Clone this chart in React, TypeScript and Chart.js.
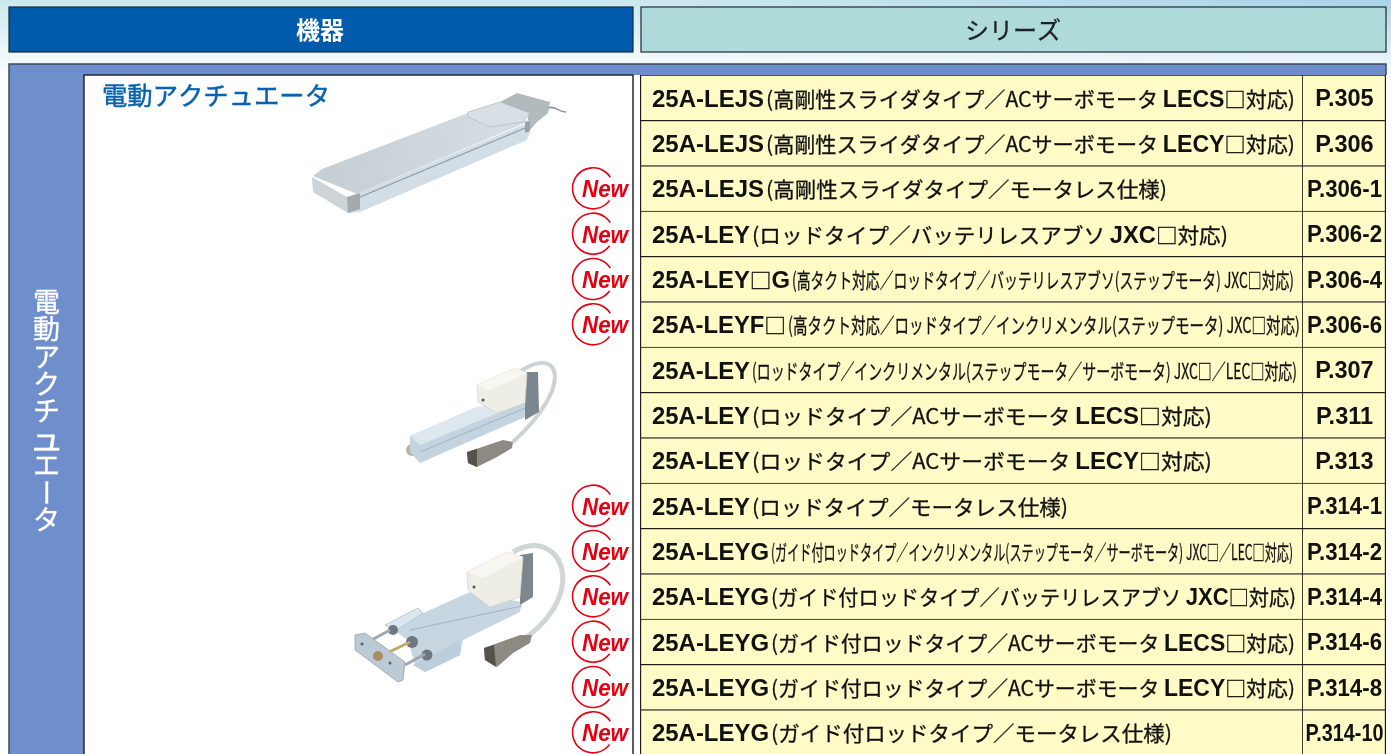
import React, { useEffect, useRef } from "react";
import { Chart, registerables } from "chart.js";

Chart.register(...registerables);

const headerLabels = ["機器", "シリーズ"];
const groupLabel = "電動アクチュエータ";

// "|" separates runs of different weight.
const rowCodes = [
  "25A-LEJS", "25A-LEJS", "25A-LEJS", "25A-LEY", "25A-LEY|□|G",
  "25A-LEYF|□", "25A-LEY", "25A-LEY", "25A-LEY", "25A-LEY",
  "25A-LEYG", "25A-LEYG", "25A-LEYG", "25A-LEYG", "25A-LEYG",
];
const rowDescriptions = [
  "(高剛性スライダタイプ／ACサーボモータ |LECS|□対応)",
  "(高剛性スライダタイプ／ACサーボモータ |LECY|□対応)",
  "(高剛性スライダタイプ／モータレス仕様)",
  "(ロッドタイプ／バッテリレスアブソ |JXC|□対応)",
  "(高タクト対応／ロッドタイプ／バッテリレスアブソ(ステップモータ) JXC□対応)",
  "(高タクト対応／ロッドタイプ／インクリメンタル(ステップモータ) JXC□対応)",
  "(ロッドタイプ／インクリメンタル(ステップモータ／サーボモータ) JXC□／LEC□対応)",
  "(ロッドタイプ／ACサーボモータ |LECS|□対応)",
  "(ロッドタイプ／ACサーボモータ |LECY|□対応)",
  "(ロッドタイプ／モータレス仕様)",
  "(ガイド付ロッドタイプ／インクリメンタル(ステップモータ／サーボモータ) JXC□／LEC□対応)",
  "(ガイド付ロッドタイプ／バッテリレスアブソ |JXC|□対応)",
  "(ガイド付ロッドタイプ／ACサーボモータ |LECS|□対応)",
  "(ガイド付ロッドタイプ／ACサーボモータ |LECY|□対応)",
  "(ガイド付ロッドタイプ／モータレス仕様)",
];
const rowPages = [
  "P.305", "P.306", "P.306-1", "P.306-2", "P.306-4", "P.306-6", "P.307", "P.311",
  "P.313", "P.314-1", "P.314-2", "P.314-4", "P.314-6", "P.314-8", "P.314-10",
];
const rowIsNew = [
  false, false, true, true, true, true, false, false,
  false, true, true, true, true, true, true,
];
const seriesCellWidths = [662, 662, 662, 662, 662, 662, 662, 662, 662, 662, 662, 662, 662, 662, 662];
const pageCellWidths = [84, 84, 84, 84, 84, 84, 84, 84, 84, 84, 84, 84, 84, 84, 84];

// Layout of the text inside the rows (not data).
const codeEndX = [764, 764, 764, 750, 790, 786, 750, 750, 750, 750, 769, 769, 769, 769, 769];
const textEndX = [1295, 1295, 1167, 1228, 1294, 1300, 1297, 1212, 1212, 1068, 1293, 1296, 1295, 1295, 1172];

const SANS = '"Liberation Sans", Arial, sans-serif';
const CJK = '"Noto Sans CJK JP", "Noto Sans", sans-serif';
const INK = "#111111";
type Ctx = CanvasRenderingContext2D;
type Pt = number[];

function poly(ctx: Ctx, pts: Pt[], fill: string | CanvasGradient, stroke?: string) {
  ctx.beginPath();
  pts.forEach((p, i) => (i ? ctx.lineTo(p[0], p[1]) : ctx.moveTo(p[0], p[1])));
  ctx.closePath();
  ctx.fillStyle = fill;
  ctx.fill();
  if (stroke) {
    ctx.strokeStyle = stroke;
    ctx.lineWidth = 0.7;
    ctx.stroke();
  }
}

function curve(ctx: Ctx, p: number[], color: string, width: number) {
  ctx.beginPath();
  ctx.moveTo(p[0], p[1]);
  ctx.bezierCurveTo(p[2], p[3], p[4], p[5], p[6], p[7]);
  ctx.strokeStyle = color;
  ctx.lineWidth = width;
  ctx.stroke();
}

function segment(ctx: Ctx, l: number[], color: string, width: number) {
  ctx.beginPath();
  ctx.moveTo(l[0], l[1]);
  ctx.lineTo(l[2], l[3]);
  ctx.strokeStyle = color;
  ctx.lineWidth = width;
  ctx.stroke();
}

function dot(ctx: Ctx, x: number, y: number, r: number, color: string) {
  ctx.fillStyle = color;
  ctx.beginPath();
  ctx.arc(x, y, r, 0, Math.PI * 2);
  ctx.fill();
}

function drawRuns(ctx: Ctx, source: string, x0: number, x1: number, y: number, boldOnEven: boolean) {
  const runs = source.split("|");
  const isBold = (i: number) => (i % 2 === 0) === boldOnEven;
  const fontOf = (i: number) => (isBold(i) ? `bold 23px ${SANS}` : `21px ${CJK}`);
  let total = 0;
  const widths = runs.map((r, i) => {
    ctx.font = fontOf(i);
    const w = ctx.measureText(r).width;
    total += w;
    return w;
  });
  const k = (x1 - x0) / total;
  let x = x0;
  runs.forEach((r, i) => {
    ctx.save();
    ctx.font = fontOf(i);
    ctx.translate(x, y);
    ctx.scale(k, 1);
    ctx.fillText(r, 0, 0);
    if (!isBold(i)) {
      ctx.strokeStyle = INK;
      ctx.lineWidth = 0.3;
      ctx.strokeText(r, 0, 0);
    }
    ctx.restore();
    x += widths[i] * k;
  });
}

function drawNewBadge(ctx: Ctx, y: number) {
  ctx.save();
  ctx.strokeStyle = "#E60012";
  ctx.lineWidth = 1.6;
  ctx.beginPath();
  ctx.arc(593, y, 20.5, Math.PI * 0.2, Math.PI * 1.82);
  ctx.stroke();
  ctx.fillStyle = "#E60012";
  ctx.font = `italic bold 24px ${SANS}`;
  ctx.textAlign = "left";
  ctx.textBaseline = "alphabetic";
  ctx.fillText("New", 582, y + 9, 46);
  ctx.restore();
}

function drawSlider(ctx: Ctx) {
  curve(ctx, [548, 108, 555, 105, 558, 112, 566, 112], "#8d9499", 1.6);
  poly(ctx, [[500, 102], [517, 93], [550, 102], [548, 113], [537, 122], [530, 130], [527, 113]], "#b3babd");
  const top = ctx.createLinearGradient(320, 170, 530, 120);
  top.addColorStop(0, "#c6ced4");
  top.addColorStop(1, "#d8dfe4");
  poly(ctx, [[313, 176], [322, 169], [468, 113], [530, 121], [357, 194]], top);
  poly(ctx, [[357, 194], [530, 122], [530, 132], [527, 140], [360, 212], [347, 213], [347, 197]], "#d3dde5");
  segment(ctx, [360, 197, 530, 126], "#8c9aa6", 1.2);
  poly(ctx, [[312, 177], [347, 197], [348, 213], [313, 192]], "#cdd3d7");
  poly(ctx, [[347, 197], [360, 193], [360, 209], [348, 213]], "#a3abb0");
  poly(ctx, [[525, 122], [530, 121], [530, 131], [525, 133]], "#9aa2a8");
  poly(ctx, [[468, 112], [500, 102], [530, 113], [523, 122], [490, 127], [468, 117]], "#d9e0e5", "#b0b9bf");
}

function drawRod(ctx: Ctx) {
  curve(ctx, [521, 371, 560, 345, 575, 385, 513, 442], "#cdd3d4", 4);
  dot(ctx, 412, 450, 6, "#b9b59f");
  poly(ctx, [[410, 436], [477, 407], [525, 402], [525, 417], [420, 463], [410, 452]], "#c3d3e0");
  poly(ctx, [[410, 436], [477, 407], [525, 402], [420, 445]], "#dde7ee");
  segment(ctx, [420, 452, 525, 408], "#9fb3c3", 1);
  poly(ctx, [[525, 372], [538, 372], [539, 412], [525, 420]], "#7d868c");
  poly(ctx, [[477, 385], [515, 368], [527, 373], [525, 403], [497, 413], [478, 402]], "#efeee6", "#d4d2c6");
  poly(ctx, [[477, 385], [515, 368], [527, 373], [490, 390]], "#f8f7f1");
  dot(ctx, 483, 400, 1.5, "#55534c");
  poly(ctx, [[467, 452], [503, 440], [513, 442], [512, 448], [497, 457], [477, 467], [468, 463]], "#8d8a83");
  poly(ctx, [[467, 452], [477, 449], [477, 467], [468, 463]], "#55524c");
}

function drawGuide(ctx: Ctx) {
  curve(ctx, [513, 552, 560, 525, 590, 590, 527, 637], "#d0d5d6", 5);
  poly(ctx, [[470, 592], [522, 602], [520, 612], [463, 640], [460, 655], [425, 672], [415, 665], [408, 640], [390, 628]], "#c8d6e2");
  poly(ctx, [[385, 625], [418, 608], [423, 613], [397, 630]], "#dce6ee", "#a9b9c5");
  poly(ctx, [[413, 665], [460, 640], [460, 655], [425, 672]], "#bccddb");
  segment(ctx, [410, 630, 522, 606], "#9fb3c3", 1);
  dot(ctx, 393, 630, 5, "#6d7780");
  dot(ctx, 412, 642, 6, "#6d7780");
  dot(ctx, 427, 655, 5.5, "#6d7780");
  segment(ctx, [368, 642, 390, 630], "#9aa9b5", 3);
  segment(ctx, [387, 653, 410, 642], "#c2a964", 3);
  segment(ctx, [405, 665, 425, 654], "#9aa9b5", 3);
  poly(ctx, [[520, 555], [533, 553], [533, 597], [520, 605]], "#7d868c");
  poly(ctx, [[467, 572], [507, 552], [523, 557], [520, 597], [490, 607], [468, 590]], "#efeee6", "#d4d2c6");
  poly(ctx, [[467, 572], [507, 552], [523, 557], [483, 578]], "#f8f7f1");
  dot(ctx, 474, 587, 1.5, "#55534c");
  poly(ctx, [[355, 635], [365, 633], [405, 662], [403, 680], [398, 682], [355, 650]], "#bccad5", "#8f9ca5");
  dot(ctx, 378, 656, 5, "#a58f60");
  dot(ctx, 362, 644, 1.5, "#58626a");
  dot(ctx, 390, 663, 1.5, "#58626a");
  poly(ctx, [[484, 648], [520, 635], [532, 635], [530, 643], [513, 653], [497, 667], [485, 660]], "#8d8a83");
  poly(ctx, [[484, 648], [494, 645], [496, 667], [485, 660]], "#55524c");
}

const tablePlugin = {
  id: "tablePlugin",
  beforeDraw(chart: Chart) {
    const ctx = chart.ctx as Ctx;
    const y = chart.scales.y;
    const w = chart.width;
    const h = chart.height;
    const R = 1386;
    ctx.save();
    ctx.fillStyle = "#ffffff";
    ctx.fillRect(0, 0, w, h);
    const band = ctx.createLinearGradient(0, 0, w, 0);
    band.addColorStop(0, "#cbe9ed");
    band.addColorStop(0.5, "#c9e7ee");
    band.addColorStop(1, "#a8d2e8");
    ctx.fillStyle = band;
    ctx.fillRect(0, 0, w, 80);
    const fade = ctx.createLinearGradient(0, 0, 0, 80);
    fade.addColorStop(0, "rgba(255,255,255,0)");
    fade.addColorStop(0.75, "rgba(255,255,255,0.75)");
    fade.addColorStop(1, "rgba(255,255,255,1)");
    ctx.fillStyle = fade;
    ctx.fillRect(0, 0, w, 80);

    // Column headers
    ctx.fillStyle = "#005BAC";
    ctx.fillRect(9, 7, 624, 45);
    ctx.strokeStyle = "#1c2b38";
    ctx.lineWidth = 1.2;
    ctx.strokeRect(9, 7, 624, 45);
    ctx.fillStyle = "#AEDBDA";
    ctx.fillRect(641, 7, R - 641, 45);
    ctx.strokeRect(641, 7, R - 641, 45);
    ctx.textAlign = "center";
    ctx.textBaseline = "middle";
    ctx.fillStyle = "#ffffff";
    ctx.font = `bold 24px ${CJK}`;
    ctx.fillText(headerLabels[0], 320, 30);
    ctx.fillStyle = "#222222";
    ctx.strokeStyle = "#222222";
    ctx.lineWidth = 0.3;
    ctx.font = `24px ${CJK}`;
    ctx.fillText(headerLabels[1], 1013, 30);
    ctx.strokeText(headerLabels[1], 1013, 30);

    // Group panel
    ctx.fillStyle = "#6E8FCB";
    ctx.fillRect(9, 64, R - 9, h - 64);
    ctx.strokeStyle = "#3c4a5c";
    ctx.lineWidth = 1.5;
    ctx.beginPath();
    ctx.moveTo(9, h);
    ctx.lineTo(9, 64);
    ctx.lineTo(R, 64);
    ctx.lineTo(R, 75);
    ctx.stroke();
    ctx.fillStyle = "#ffffff";
    ctx.fillRect(84, 75, 556, h - 75);
    ctx.strokeStyle = "#24282e";
    ctx.beginPath();
    ctx.moveTo(84, h);
    ctx.lineTo(84, 75);
    ctx.lineTo(633, 75);
    ctx.lineTo(633, h);
    ctx.stroke();

    // Vertical group label
    ctx.fillStyle = "#ffffff";
    ctx.strokeStyle = "#ffffff";
    ctx.lineWidth = 0.35;
    ctx.font = `27px ${CJK}`;
    Array.from(groupLabel).forEach((ch, i) => {
      ctx.save();
      ctx.translate(46.5, 302 + i * 27.2);
      if (ch === "ー") ctx.rotate(Math.PI / 2);
      if (ch === "ュ") ctx.scale(1.3, 1.15);
      ctx.fillText(ch, 0, 0);
      ctx.strokeText(ch, 0, 0);
      ctx.restore();
    });

    // Panel title
    ctx.fillStyle = "#0A62AE";
    ctx.strokeStyle = "#0A62AE";
    ctx.lineWidth = 0.45;
    ctx.textAlign = "left";
    ctx.font = `25.5px ${CJK}`;
    ctx.fillText(groupLabel, 102, 95.5, 228);
    ctx.strokeText(groupLabel, 102, 95.5, 228);

    drawSlider(ctx);
    drawRod(ctx);
    drawGuide(ctx);

    rowIsNew.forEach((isNew, i) => {
      if (isNew) drawNewBadge(ctx, y.getPixelForValue(i));
    });
    ctx.restore();
  },
  afterDatasetsDraw(chart: Chart) {
    const ctx = chart.ctx as Ctx;
    const y = chart.scales.y;
    ctx.save();
    ctx.fillStyle = INK;
    ctx.textBaseline = "alphabetic";
    ctx.textAlign = "left";
    rowCodes.forEach((code, i) => {
      const base = y.getPixelForValue(i) + 9;
      drawRuns(ctx, code, 652, codeEndX[i], base, true);
      drawRuns(ctx, rowDescriptions[i], codeEndX[i] + 2, textEndX[i], base, false);
      const label = rowPages[i];
      ctx.save();
      ctx.textAlign = "center";
      ctx.font = `bold 23.5px ${SANS}`;
      ctx.fillText(label, 1344.5, base - 0.3, label.length > 7 ? 78 : 75);
      ctx.restore();
    });
    ctx.restore();
  },
};

export default function App() {
  const ref = useRef<HTMLCanvasElement>(null);
  useEffect(() => {
    if (!ref.current) return;
    const cell = {
      backgroundColor: "#FFFBC7",
      borderColor: "#1e1e18",
      borderSkipped: false,
      categoryPercentage: 1,
      barPercentage: 1,
    };
    const chart = new Chart(ref.current, {
      type: "bar",
      data: {
        labels: rowCodes.map((c, i) => `${c.replace(/\|/g, "")}${rowDescriptions[i].replace(/\|/g, "")}`),
        datasets: [
          { label: headerLabels[1], data: seriesCellWidths, ...cell, borderWidth: { top: 1.2, left: 1.5, right: 0, bottom: 0 } },
          { label: "ページ", data: pageCellWidths, ...cell, borderWidth: { top: 1.2, left: 1.2, right: 1.5, bottom: 0 } },
        ],
      },
      options: {
        indexAxis: "y",
        animation: false,
        responsive: false,
        layout: { padding: { left: 640, top: 75, right: 5, bottom: 1 } },
        plugins: { legend: { display: false }, tooltip: { enabled: false }, title: { display: false } },
        scales: {
          x: { type: "linear", stacked: true, min: 0, max: 746, display: false },
          y: { type: "category", stacked: true, offset: true, display: false },
        },
      },
      plugins: [tablePlugin],
    } as any);
    return () => chart.destroy();
  }, []);
  return (
    <div style={{ position: "fixed", left: 0, top: 0, width: 1391, height: 754, overflow: "hidden" }}>
      <canvas ref={ref} width={1391} height={756} style={{ display: "block" }} />
    </div>
  );
}
